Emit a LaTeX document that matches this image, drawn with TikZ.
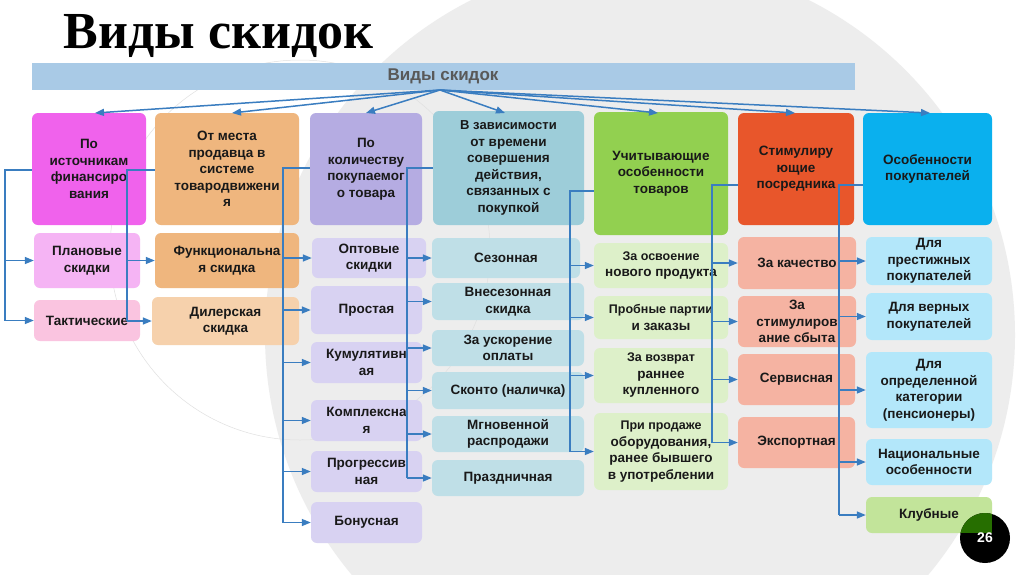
\documentclass[tikz,border=0pt]{standalone}
\usepackage{fontspec}
\setmainfont{Liberation Sans}
\newfontfamily\serifb{Liberation Serif}
\usetikzlibrary{arrows.meta}
\definecolor{arrc}{HTML}{3A7DC0}
\definecolor{ban}{HTML}{A9CAE6}
\definecolor{H1}{HTML}{F062EC}
\definecolor{H2}{HTML}{EFB67E}
\definecolor{H3}{HTML}{B5ACE2}
\definecolor{H4}{HTML}{9DCDD9}
\definecolor{H5}{HTML}{92D050}
\definecolor{H6}{HTML}{E8562B}
\definecolor{H7}{HTML}{0AB0EE}
\definecolor{C1}{HTML}{F5B4F4}
\definecolor{C1b}{HTML}{FAC4E0}
\definecolor{C2}{HTML}{EFB67E}
\definecolor{C2b}{HTML}{F6D1AC}
\definecolor{C3}{HTML}{D8D2F2}
\definecolor{C4}{HTML}{BFDFE7}
\definecolor{C5}{HTML}{DDF0C9}
\definecolor{C6}{HTML}{F5B3A2}
\definecolor{C7}{HTML}{B3E7FA}
\definecolor{C7g}{HTML}{C2E49A}
\newcommand\bx[7]{\node[box,fill=#6,minimum width={#4-#2},minimum height={#5-#3}] (#1) at ({(#2+#4)/2},{-(#3+#5)/2}) {#7};}
\tikzset{
 box/.style={rounded corners=6pt,inner sep=1pt,align=center,font=\bfseries\fontsize{13.5}{16.5}\selectfont,text=black!90},
 con/.style={draw=arrc,line width=1.5pt},
 arr/.style={con,-{Triangle[length=9pt,width=7pt]}},
}
\begin{document}
\begin{tikzpicture}[x=1pt,y=1pt]
\useasboundingbox (0,0) rectangle (1024,-574);
\fill[white] (0,0) rectangle (1024,-574);
\begin{scope}
\clip (0,0) rectangle (1024,-574);
\fill[black!7] (640,-335) circle (375);
\draw[black!12,line width=0.5pt] (300,-250) circle (190);
\end{scope}
\node[font=\serifb\bfseries\fontsize{52}{56}\selectfont,anchor=west] (title) at (60,-36) {Виды скидок};
\fill[ban] (32,-63) rectangle (855,-90);
\node[font=\bfseries\fontsize{17}{19}\selectfont,text=black!65] (bann) at (443,-76) {Виды скидок};
\coordinate (src) at (440,-90);
\bx{h1}{32}{113}{146}{225}{H1}{По\\источникам\\финансиро\\вания}
\bx{h2}{155}{113}{299}{225}{H2}{От места\\продавца в\\системе\\товародвижени\\я}
\bx{h3}{310}{113}{422}{225}{H3}{По\\количеству\\покупаемог\\о товара}
\bx{h4}{433}{111}{584}{225}{H4}{\fontsize{13}{15}\selectfont В зависимости\\от времени\\совершения\\действия,\\связанных с\\покупкой}
\bx{h5}{594}{112}{728}{235}{H5}{Учитывающие\\особенности\\товаров}
\bx{h6}{738}{113}{854}{225}{H6}{Стимулиру\\ющие\\посредника}
\bx{h7}{863}{113}{992}{225}{H7}{Особенности\\покупателей}
\bx{c11}{34}{233}{140}{288}{C1}{Плановые\\скидки}
\bx{c12}{34}{300}{140}{341}{C1b}{Тактические}
\bx{c21}{155}{233}{299}{288}{C2}{Функциональна\\я скидка}
\bx{c22}{152}{297}{299}{345}{C2b}{Дилерская\\скидка}
\bx{c31}{312}{238}{426}{278}{C3}{Оптовые\\скидки}
\bx{c32}{311}{286}{422}{334}{C3}{Простая}
\bx{c33}{311}{342}{422}{383}{C3}{Кумулятивн\\ая}
\bx{c34}{311}{400}{422}{441}{C3}{Комплексна\\я}
\bx{c35}{311}{451}{422}{492}{C3}{Прогрессив\\ная}
\bx{c36}{311}{502}{422}{543}{C3}{Бонусная}
\bx{c41}{432}{238}{580}{278}{C4}{Сезонная}
\bx{c42}{432}{283}{584}{320}{C4}{Внесезонная\\скидка}
\bx{c43}{432}{330}{584}{366}{C4}{За ускорение\\оплаты}
\bx{c44}{432}{372}{584}{409}{C4}{Сконто (наличка)}
\bx{c45}{432}{416}{584}{452}{C4}{Мгновенной\\распродажи}
\bx{c46}{432}{460}{584}{496}{C4}{Праздничная}
\bx{c51}{594}{243}{728}{288}{C5}{\fontsize{12.5}{14}\selectfont За освоение\\нового продукта}
\bx{c52}{594}{296}{728}{339}{C5}{\fontsize{12.5}{15}\selectfont Пробные партии\\и заказы}
\bx{c53}{594}{348}{728}{403}{C5}{\fontsize{12.5}{15}\selectfont За возврат\\раннее\\купленного}
\bx{c54}{594}{413}{728}{490}{C5}{\fontsize{12.5}{15}\selectfont При продаже\\оборудования,\\ранее бывшего\\в употреблении}
\bx{c61}{738}{237}{856}{289}{C6}{За качество}
\bx{c62}{738}{296}{856}{347}{C6}{За\\стимулиров\\ание сбыта}
\bx{c63}{738}{354}{855}{405}{C6}{Сервисная}
\bx{c64}{738}{417}{855}{468}{C6}{Экспортная}
\bx{c71}{866}{237}{992}{285}{C7}{Для\\престижных\\покупателей}
\bx{c72}{866}{293}{992}{340}{C7}{Для верных\\покупателей}
\bx{c73}{866}{352}{992}{428}{C7}{Для\\определенной\\категории\\(пенсионеры)}
\bx{c74}{866}{439}{992}{485}{C7}{Национальные\\особенности}
\bx{c75}{866}{497}{992}{533}{C7g}{Клубные}
\foreach \h/\tx in {h1/95,h2/232,h3/366,h4/505,h5/658,h6/795,h7/930}
  \draw[arr] (src) -- (\tx,-113);
\coordinate (b1) at (5,-170);
\coordinate (b2) at (127,-170);
\coordinate (b3) at (283,-168);
\coordinate (b4) at (407,-168);
\coordinate (b5) at (570,-191);
\coordinate (b6) at (712,-185);
\coordinate (b7) at (839,-185);
\draw[con] (h1.west|-b1) -- (b1) -- (b1|-c12.west);
\draw[con] (h2.west|-b2) -- (b2) -- (b2|-c22.west);
\draw[con] (h3.west|-b3) -- (b3) -- (b3|-c36.west);
\draw[con] (h4.west|-b4) -- (b4) -- (b4|-c46.west);
\draw[con] (h5.west|-b5) -- (b5) -- (b5|-c54.west);
\draw[con] (h6.west|-b6) -- (b6) -- (b6|-c64.west);
\draw[con] (h7.west|-b7) -- (b7) -- (b7|-c75.west);
\foreach \c in {c11,c12} \draw[arr] (b1|-\c.west) -- (\c.west);
\foreach \c in {c21,c22} \draw[arr] (b2|-\c.west) -- (\c.west);
\foreach \c in {c31,c32,c33,c34,c35,c36} \draw[arr] (b3|-\c.west) -- (\c.west);
\foreach \c in {c41,c42,c43,c44,c45,c46} \draw[arr] (b4|-\c.west) -- (\c.west);
\foreach \c in {c51,c52,c53,c54} \draw[arr] (b5|-\c.west) -- (\c.west);
\foreach \c in {c61,c62,c63,c64} \draw[arr] (b6|-\c.west) -- (\c.west);
\foreach \c in {c71,c72,c73,c74,c75} \draw[arr] (b7|-\c.west) -- (\c.west);
\fill[black] (985,-538) circle (25);
\begin{scope}
\clip (985,-538) circle (25);
\fill[green!40!black!70!olive] (960,-513) rectangle (992,-533);
\end{scope}
\node[text=white,font=\bfseries\fontsize{14}{16}\selectfont] (pg) at (985,-538) {26};
\end{tikzpicture}
\end{document}
